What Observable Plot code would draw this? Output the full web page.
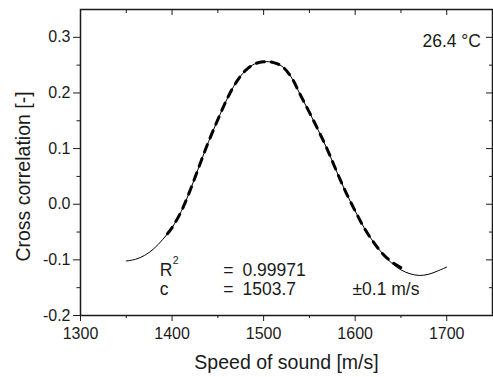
<!DOCTYPE html>
<html><head><meta charset="utf-8">
<script src="https://cdn.jsdelivr.net/npm/d3@7"></script>
<script src="https://cdn.jsdelivr.net/npm/@observablehq/plot@0.6"></script>
<style>body{margin:0;background:#fff;} svg{display:block;}</style>
</head><body><div id="chart"></div>
<script>
// measured cross correlation vs assumed speed of sound
const speed = [1350,1360,1370,1380,1390,1400,1410,1420,1430,1440,1450,1460,1470,1480,1490,1500,1510,1520,1530,1540,1550,1560,1570,1580,1590,1600,1610,1620,1630,1640,1650,1660,1670,1680,1690,1700];
const corr  = [-0.102,-0.099,-0.092,-0.080,-0.063,-0.042,-0.013,0.026,0.070,0.113,0.152,0.189,0.219,0.240,0.252,0.256,0.255,0.248,0.229,0.197,0.165,0.132,0.097,0.058,0.021,-0.012,-0.043,-0.068,-0.089,-0.106,-0.118,-0.125,-0.128,-0.126,-0.120,-0.113];
// fitted curve
const fitSpeed = [1395,1400,1410,1420,1430,1440,1450,1460,1470,1480,1490,1500,1510,1520,1530,1540,1550,1560,1570,1580,1590,1600,1610,1620,1630,1640,1650];
const fitCorr  = [-0.053,-0.042,-0.013,0.026,0.070,0.113,0.152,0.189,0.219,0.240,0.252,0.256,0.255,0.248,0.229,0.197,0.165,0.132,0.097,0.058,0.021,-0.012,-0.043,-0.068,-0.089,-0.104,-0.114];

const xMajor = [1300,1400,1500,1600,1700];
const xMinor = [1350,1450,1550,1650];
const yMajor = [-0.2,-0.1,0.0,0.1,0.2,0.3];
const yMinor = [-0.15,-0.05,0.05,0.15,0.25];

const xLabel = "Speed of sound [m/s]";
const yLabel = "Cross correlation [-]";
const tempLabel = "26.4 °C";
const statNames = ["R", "c"];
const statEq = ["=", "="];
const statValues = ["0.99971", "1503.7"];
const statSup = "2";
const uncertainty = "±0.1 m/s";

const data = speed.map((s, i) => ({s, c: corr[i]}));
const fit = fitSpeed.map((s, i) => ({s, c: fitCorr[i]}));

const W = 493, H = 377, mL = 80, mR = 1, mT = 9, mB = 62;
const frameW = W - mL - mR, frameH = H - mT - mB;
const ink = "#1a1a1a";
const font = "Liberation Sans, Arial, Helvetica, sans-serif";

// annotation layout (pixel offsets from the frame's bottom-left corner)
const rowDy = [-40, -21];
const colDx = {name: 79.3, eq: 142.7, value: 162};

function label(str, anchor, dx, dy, size, textAnchor) {
  return Plot.text([str], {frameAnchor: anchor, dx, dy, text: d => d, fontSize: size,
    textAnchor: textAnchor || "start", lineAnchor: "bottom", fill: ink});
}

const statMarks = [];
statNames.forEach((n, i) => {
  statMarks.push(label(n, "bottom-left", colDx.name, rowDy[i], 17.5));
  statMarks.push(label(statEq[i], "bottom-left", colDx.eq, rowDy[i], 17.5));
  statMarks.push(label(statValues[i], "bottom-left", colDx.value, rowDy[i], 17.5));
});
statMarks.push(label(statSup, "bottom-left", 92.3, -51.5, 10.5));
statMarks.push(label(uncertainty, "bottom-left", 272, rowDy[1], 17.5));

const chart = Plot.plot({
  width: W, height: H,
  marginLeft: mL, marginRight: mR, marginTop: mT, marginBottom: mB,
  style: {fontFamily: font, fontSize: "16px", color: ink, background: "#fff"},
  x: {domain: [1300, 1750]},
  y: {domain: [-0.2, 0.35]},
  marks: [
    // bottom & left axes (outward ticks)
    Plot.axisX(xMajor, {tickSize: 6, tickPadding: 6, fontSize: 16, label: null, tickFormat: d => String(d), stroke: ink}),
    Plot.axisX(xMinor, {tickSize: 3, label: null, tickFormat: () => "", stroke: ink}),
    Plot.axisY(yMajor, {tickSize: 7, tickPadding: 3, fontSize: 16, label: null, tickFormat: d => d.toFixed(1), stroke: ink}),
    Plot.axisY(yMinor, {tickSize: 3.5, label: null, tickFormat: () => "", stroke: ink}),
    // top & right mirrored ticks (inward)
    Plot.tickX(xMajor, {x: d => d, insetBottom: frameH - 6, stroke: ink}),
    Plot.tickX(xMinor, {x: d => d, insetBottom: frameH - 4, stroke: ink}),
    Plot.tickY(yMajor, {y: d => d, insetLeft: frameW - 6, stroke: ink}),
    Plot.tickY(yMinor, {y: d => d, insetLeft: frameW - 3, stroke: ink}),
    Plot.frame({stroke: ink, strokeWidth: 1.5}),
    // data & fit
    Plot.line(data, {x: "s", y: "c", stroke: "#000", strokeWidth: 1, curve: "catmull-rom"}),
    Plot.line(fit, {x: "s", y: "c", stroke: "#000", strokeWidth: 3, strokeDasharray: "8,7", curve: "catmull-rom"}),
    // axis titles
    Plot.text([xLabel], {frameAnchor: "bottom", dy: 47, text: d => d, fontSize: 19.5, lineAnchor: "middle", textAnchor: "middle", fill: ink}),
    Plot.text([yLabel], {frameAnchor: "left", dx: -57, dy: 14, rotate: -90, text: d => d, fontSize: 19.5, lineAnchor: "middle", textAnchor: "middle", fill: ink}),
    // annotations
    label(tempLabel, "top-right", -11.5, 37.7, 17.5, "end"),
    ...statMarks
  ]
});
document.getElementById("chart").append(chart);
</script>
</body></html>
